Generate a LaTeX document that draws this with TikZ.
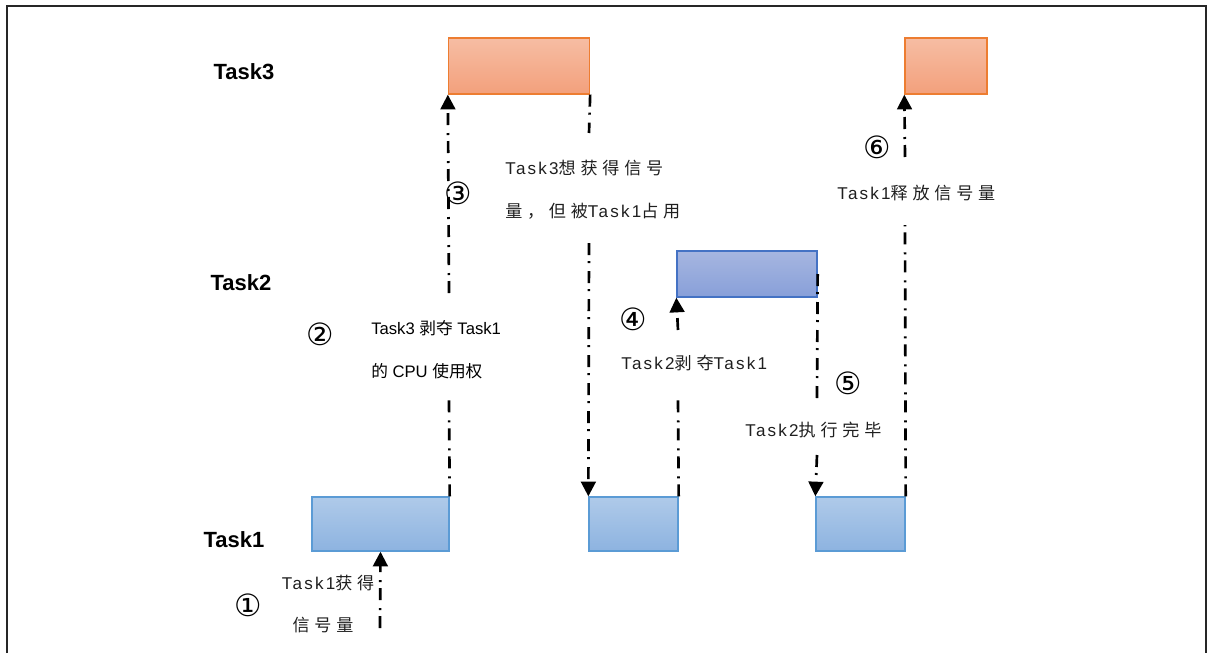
\documentclass[tikz,border=0pt]{standalone}
\usepackage{fontspec}
\setmainfont{Liberation Sans}
\newfontfamily\lsf[LetterSpace=13]{Liberation Sans}
\newfontfamily\csf[LetterSpace=28]{Noto Sans CJK SC}
\newfontfamily\cjkplain{Noto Sans CJK SC}
\newfontfamily\circfont{DejaVu Sans}
\usetikzlibrary{arrows.meta}

\newcommand{\zh}[1]{{\csf #1}}
\newcommand{\zhp}[1]{{\cjkplain #1}}

\definecolor{orangeline}{HTML}{ED7D31}
\definecolor{orangetop}{HTML}{F6BDA3}
\definecolor{orangebot}{HTML}{F3A07C}
\definecolor{blueline}{HTML}{5B9BD5}
\definecolor{bluetop}{HTML}{AFCAE9}
\definecolor{bluebot}{HTML}{8DB3E0}
\definecolor{violetline}{HTML}{4472C4}
\definecolor{violettop}{HTML}{A6B6E0}
\definecolor{violetbot}{HTML}{889FD9}

\begin{document}
\begin{tikzpicture}[x=0.75pt,y=-0.75pt,
  tasklabel/.style={font=\fontsize{16.5}{19}\selectfont\bfseries, text=black, inner sep=0pt},
  t3box/.style={draw=orangeline, line width=1pt, top color=orangetop, bottom color=orangebot, inner sep=0pt, minimum height=42pt},
  t2box/.style={draw=violetline, line width=1pt, top color=violettop, bottom color=violetbot, inner sep=0pt, minimum height=34.5pt},
  t1box/.style={draw=blueline, line width=1pt, top color=bluetop, bottom color=bluebot, inner sep=0pt, minimum height=40.5pt},
  flow/.style={line width=2pt, black, dash pattern=on 9pt off 4.5pt on 1.5pt off 6pt},
  tip/.style={-{Triangle[width=11pt,length=11pt]}},
  note/.style={font=\lsf\fontsize{12.8}{15}\selectfont, text=black!88, inner sep=0pt, anchor=west},
  plainnote/.style={font=\fontsize{12.5}{15}\selectfont, text=black, inner sep=0pt, anchor=west},
  num/.style={font=\circfont\fontsize{23}{26}\selectfont, text=black, inner sep=0pt}
]
\useasboundingbox (0,0) rectangle (1209,653);

% outer frame
\draw[line width=1.6pt, black!85] (7,653) -- (7,6) -- (1206,6) -- (1206,653);

% row labels
\node[tasklabel] (l3) at (244,72) {Task3};
\node[tasklabel] (l2) at (241,283) {Task2};
\node[tasklabel] (l1) at (234,540) {Task1};

% time slices
\node[t3box, minimum width=105.75pt] (t3a) at (519,66) {};
\node[t3box, minimum width=61.5pt]   (t3b) at (946,66) {};
\node[t2box, minimum width=105pt]    (t2)  at (747,274) {};
\node[t1box, minimum width=102.75pt] (t1a) at (380.5,524) {};
\node[t1box, minimum width=66.75pt]  (t1b) at (633.5,524) {};
\node[t1box, minimum width=66.75pt]  (t1c) at (860.5,524) {};

% line breaks around the captions
\coordinate (g1)  at (380,628);
\coordinate (g2a) at (449,400);
\coordinate (g2b) at (449,293);
\coordinate (g3a) at (589,133);
\coordinate (g3b) at (589,243);
\coordinate (g4a) at (678,398);
\coordinate (g4b) at (678,330);
\coordinate (g5a) at (817,398);
\coordinate (g5b) at (817,455);
\coordinate (g6a) at (905,225);
\coordinate (g6b) at (905,157);

% transitions
\draw[flow, tip] (g1) -- (t1a.south);
\draw[flow] (t1a.north east) -- (g2a);
\draw[flow, tip] (g2b) -- (t3a.south west);
\draw[flow] (t3a.south east) -- (g3a);
\draw[flow, tip] (g3b) -- (t1b.north west);
\draw[flow] (t1b.north east) -- (g4a);
\draw[flow, tip] (g4b) -- (t2.south west);
\draw[flow] (t2.east) -- (g5a);
\draw[flow, tip] (g5b) -- (t1c.north west);
\draw[flow] (t1c.north east) -- (g6a);
\draw[flow, tip] (g6b) -- (t3b.south west);

% captions
\node[note, anchor=center] (c1a) at (328,583) {Task1\zh{获得}};
\node[note, anchor=center] (c1b) at (323,625) {\zh{信号量}};
\node[plainnote] (c2a) at (371,328) {Task3 \zhp{剥夺} Task1};
\node[plainnote] (c2b) at (371,371) {\zhp{的} CPU \zhp{使用权}};
\node[note] (c3a) at (505,168) {Task3\zh{想获得信号}};
\node[note] (c3b) at (505,211) {\zh{量，但被}Task1\zh{占用}};
\node[note] (c4) at (621,363) {Task2\zh{剥夺}Task1};
\node[note] (c5) at (745,430) {Task2\zh{执行完毕}};
\node[note] (c6) at (837,193) {Task1\zh{释放信号量}};

% step numbers
\node[num] (n1) at (248,605) {①};
\node[num] (n2) at (320,334) {②};
\node[num] (n3) at (458,193) {③};
\node[num] (n4) at (633,319) {④};
\node[num] (n5) at (848,383) {⑤};
\node[num] (n6) at (877,147) {⑥};
\end{tikzpicture}
\end{document}
